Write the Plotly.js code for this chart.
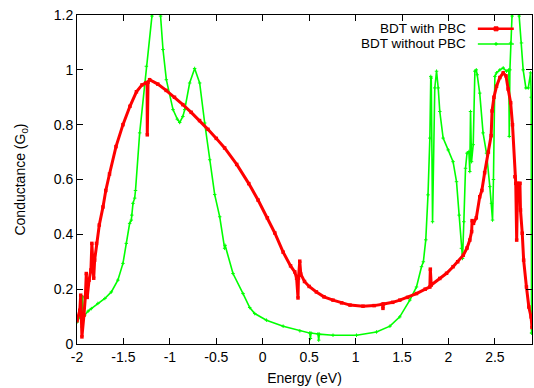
<!DOCTYPE html>
<html>
<head>
<meta charset="utf-8">
<script src="https://cdn.plot.ly/plotly-3.0.1.min.js"></script>
<style>html,body{margin:0;padding:0;background:#fff;}#chart{width:534px;height:388px;}</style>
</head>
<body>
<div id="chart"></div>
<script>
// Series names
const seriesNames = ["BDT with PBC", "BDT without PBC"];

// BDT with PBC (red)
const pbcEnergy = [-2.00,-1.97,-1.96,-1.947,-1.925,-1.91,-1.90,-1.89,-1.87,-1.85,-1.84,-1.82,-1.81,-1.79,-1.76,-1.72,-1.69,-1.65,-1.58,-1.505,-1.43,-1.36,-1.30,-1.26,-1.245,-1.243,-1.235,-1.218,-1.13,-1.04,-0.95,-0.86,-0.77,-0.68,-0.59,-0.50,-0.41,-0.28,-0.15,-0.05,0.05,0.13,0.22,0.30,0.345,0.365,0.38,0.385,0.399,0.41,0.45,0.50,0.578,0.66,0.757,0.85,0.94,1.08,1.20,1.29,1.295,1.30,1.40,1.476,1.56,1.656,1.75,1.80,1.805,1.815,1.907,1.98,2.05,2.10,2.16,2.20,2.23,2.25,2.255,2.27,2.30,2.337,2.36,2.39,2.43,2.46,2.47,2.49,2.518,2.554,2.59,2.62,2.643,2.67,2.69,2.716,2.725,2.735,2.745,2.77,2.776,2.795,2.81,2.84,2.866,2.89,2.90];
const pbcG = [0.085,0.123,0.178,0.026,0.105,0.172,0.257,0.170,0.233,0.270,0.367,0.240,0.306,0.367,0.434,0.500,0.560,0.620,0.720,0.800,0.867,0.920,0.945,0.952,0.950,0.763,0.955,0.964,0.948,0.925,0.900,0.873,0.845,0.815,0.783,0.750,0.715,0.655,0.585,0.525,0.460,0.405,0.335,0.285,0.263,0.240,0.168,0.240,0.302,0.255,0.228,0.210,0.190,0.172,0.160,0.150,0.142,0.138,0.140,0.145,0.130,0.146,0.152,0.160,0.170,0.184,0.200,0.208,0.273,0.215,0.239,0.258,0.282,0.300,0.324,0.350,0.379,0.410,0.450,0.440,0.460,0.537,0.560,0.625,0.700,0.760,0.850,0.900,0.940,0.972,0.989,0.978,0.930,0.880,0.800,0.610,0.586,0.379,0.586,0.586,0.489,0.404,0.306,0.208,0.135,0.099,0.060];

// BDT without PBC (green)
const noPbcEnergy = [-2.00,-1.97,-1.955,-1.947,-1.94,-1.93,-1.918,-1.88,-1.846,-1.775,-1.70,-1.63,-1.56,-1.505,-1.469,-1.433,-1.415,-1.41,-1.397,-1.379,-1.37,-1.325,-1.253,-1.193,-1.16,-1.145,-1.125,-1.10,-1.074,-1.038,-0.966,-0.92,-0.894,-0.86,-0.84,-0.787,-0.733,-0.679,-0.625,-0.571,-0.517,-0.463,-0.41,-0.405,-0.32,-0.212,-0.14,-0.086,0.04,0.22,0.40,0.506,0.514,0.52,0.595,0.603,0.61,0.757,1.01,1.225,1.37,1.476,1.584,1.656,1.71,1.73,1.756,1.78,1.80,1.81,1.815,1.829,1.853,1.872,1.89,1.907,1.943,1.997,2.05,2.087,2.116,2.14,2.152,2.166,2.184,2.20,2.22,2.23,2.238,2.249,2.267,2.285,2.30,2.31,2.337,2.373,2.41,2.446,2.464,2.475,2.485,2.50,2.518,2.554,2.59,2.626,2.65,2.655,2.662,2.67,2.686,2.72,2.762,2.787,2.805,2.834,2.86,2.885,2.892,2.895,2.90];
const noPbcG = [0.080,0.099,0.125,0.062,0.172,0.100,0.105,0.120,0.129,0.148,0.166,0.190,0.233,0.294,0.367,0.440,0.452,0.470,0.513,0.532,0.560,0.770,1.013,1.196,1.450,1.500,1.400,1.196,1.074,0.964,0.855,0.820,0.808,0.830,0.855,0.952,1.005,0.952,0.806,0.672,0.545,0.464,0.349,0.360,0.257,0.184,0.133,0.111,0.087,0.065,0.048,0.040,0.020,0.040,0.037,0.014,0.036,0.032,0.032,0.044,0.065,0.099,0.160,0.208,0.282,0.300,0.380,0.544,0.751,0.976,0.970,0.446,0.934,0.995,0.934,0.848,0.751,0.708,0.665,0.592,0.470,0.349,0.312,0.446,0.641,0.696,0.702,0.629,0.848,0.665,0.727,0.995,1.000,0.982,0.915,0.770,0.696,0.574,0.513,0.452,0.600,0.976,0.989,1.000,1.007,0.995,1.000,0.757,1.000,1.098,1.196,1.500,1.196,1.098,1.000,0.934,0.934,0.989,0.900,0.040,0.040];

// Axis ticks
const xTickVals = [-2,-1.5,-1,-0.5,0,0.5,1,1.5,2,2.5];
const xTickText = ["-2","-1.5","-1","-0.5","0","0.5","1","1.5","2","2.5"];
const yTickVals = [0,0.2,0.4,0.6,0.8,1,1.2];
const yTickText = ["0","0.2","0.4","0.6","0.8","1","1.2"];

const RED = "#ff0000", GREEN = "#00ff00";
const FONT = "Liberation Sans, Arial, Helvetica, sans-serif";

const traces = [
  {x: noPbcEnergy, y: noPbcG, name: seriesNames[1], type: "scatter", mode: "lines+markers",
   line: {color: GREEN, width: 1.6}, marker: {color: GREEN, size: 2.5, symbol: "cross-thin", line:{color:GREEN,width:1}}, showlegend: false},
  {x: pbcEnergy, y: pbcG, name: seriesNames[0], type: "scatter", mode: "lines+markers",
   line: {color: RED, width: 3}, marker: {color: RED, size: 3.5, symbol: "square"}, showlegend: false}
];

// Custom legend (text right-aligned, sample on the right, as in the original)
const legRows = [{y: 0.958, color: RED, w: 2.6, name: seriesNames[0], mk: 4}, {y: 0.912, color: GREEN, w: 1.6, name: seriesNames[1], mk: 2}];
const annotations = legRows.map(r => ({xref: "paper", yref: "paper", x: 0.857, y: r.y, xanchor: "right", yanchor: "middle",
  text: r.name, showarrow: false, borderpad: 0,
  font: {family: FONT, size: 13.5, color: "#000"}}));
const shapes = [];
legRows.forEach(r => {
  shapes.push({type: "line", xref: "paper", yref: "paper", x0: 0.881, x1: 0.960, y0: r.y, y1: r.y, line: {color: r.color, width: r.w}});
  const hw = r.mk / 2 / 455, hh = r.mk / 2 / 329;
  shapes.push({type: "rect", xref: "paper", yref: "paper", x0: 0.921 - hw, x1: 0.921 + hw, y0: r.y - hh, y1: r.y + hh, line: {color: r.color, width: 1}, fillcolor: r.color});
});

const axisCommon = {showline: true, linecolor: "#000", linewidth: 1, mirror: "allticks", ticks: "inside", ticklen: 6,
  tickcolor: "#000", tickwidth: 1, showgrid: false, zeroline: false, tickfont: {family: FONT, size: 14, color: "#000"}};

const layout = {
  width: 534, height: 388,
  margin: {l: 77, r: 2, t: 15, b: 44},
  paper_bgcolor: "#fff", plot_bgcolor: "#fff",
  font: {family: FONT, size: 14, color: "#000"},
  xaxis: Object.assign({}, axisCommon, {range: [-2, 2.9], tickmode: "array", tickvals: xTickVals, ticktext: xTickText,
    title: {text: "Energy (eV)", font: {family: FONT, size: 14, color: "#000"}, standoff: 9}}),
  yaxis: Object.assign({}, axisCommon, {range: [0, 1.2], tickmode: "array", tickvals: yTickVals, ticktext: yTickText,
    title: {text: "Conductance (G<sub>0</sub>)", font: {family: FONT, size: 14, color: "#000"}, standoff: 24}}),
  annotations: annotations,
  shapes: shapes,
  showlegend: false
};

Plotly.newPlot("chart", traces, layout, {staticPlot: true, displayModeBar: false});
</script>
</body>
</html>
